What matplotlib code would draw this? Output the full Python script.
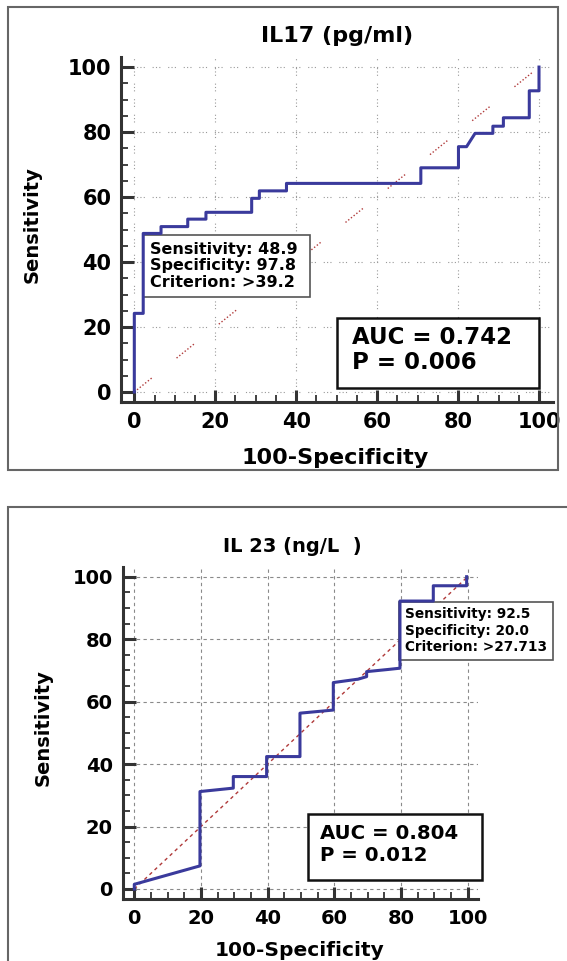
import matplotlib
matplotlib.use("Agg")
import matplotlib.pyplot as plt
from matplotlib.patches import Rectangle

# IL17 ROC curve (step path)
il17_fpr = [0, 0, 2.2, 2.2, 6.6, 6.6, 13.2, 13.2, 17.7, 17.7, 29.0, 29.0, 30.9, 30.9,
            37.6, 37.6, 70.8, 70.8, 80.1, 80.1, 82.1, 84.2, 88.6, 88.6, 91.2, 91.2,
            97.6, 97.6, 100, 100]
il17_tpr = [0, 24.2, 24.2, 48.8, 48.8, 50.9, 50.9, 53.2, 53.2, 55.3, 55.3, 59.6, 59.6, 61.9,
            61.9, 64.2, 64.2, 69.0, 69.0, 75.5, 75.5, 79.6, 79.6, 81.8, 81.8, 84.4,
            84.4, 92.7, 92.7, 100]

# IL23 ROC curve
il23_fpr = [0, 0, 19.7, 19.7, 29.7, 29.7, 39.7, 39.7, 49.7, 49.7, 59.7, 59.7, 67.2, 69.7,
            69.7, 76.2, 79.7, 79.7, 89.7, 89.7, 99.7, 99.7]
il23_tpr = [0, 1.5, 7.4, 31.2, 32.3, 36.0, 36.0, 42.4, 42.4, 56.3, 57.3, 66.1, 67.2, 68.0,
            69.6, 70.3, 70.7, 92.2, 92.2, 97.1, 97.1, 100]

ticks = [0, 20, 40, 60, 80, 100]
minor_ticks = list(range(0, 101, 5))

il17_info = "Sensitivity: 48.9\nSpecificity: 97.8\nCriterion: >39.2"
il17_auc = "AUC = 0.742\nP = 0.006"
il23_info = "Sensitivity: 92.5\nSpecificity: 20.0\nCriterion: >27.713"
il23_auc = "AUC = 0.804\nP = 0.012"

W, H = 567, 961
fig = plt.figure(figsize=(W / 100, H / 100), dpi=100)
plt.rcParams['font.family'] = ['DejaVu Sans']

curve_col = "#3a3a9c"
diag_col = "#b03a3a"
spine_col = "#333333"


def px(x, y):
    return x / W, 1 - y / H


# outer frames
fig.add_artist(Rectangle(px(8, 470), 550 / W, 463 / H, transform=fig.transFigure,
                         fill=False, edgecolor="#666666", linewidth=1.5))
fig.add_artist(Rectangle(px(8, 975), 580 / W, 468 / H, transform=fig.transFigure,
                         fill=False, edgecolor="#666666", linewidth=1.5))


def style_axes(ax, xlim, ylim, lsize):
    ax.set_xlim(*xlim)
    ax.set_ylim(*ylim)
    for s in ["top", "right"]:
        ax.spines[s].set_visible(False)
    for s in ["left", "bottom"]:
        ax.spines[s].set_linewidth(2.2)
        ax.spines[s].set_color(spine_col)
    ax.set_xticks(ticks)
    ax.set_yticks(ticks)
    ax.set_xticks(minor_ticks, minor=True)
    ax.set_yticks(minor_ticks, minor=True)
    ax.tick_params(which="major", direction="in", length=9, width=2.2, color=spine_col,
                   labelsize=lsize, pad=7)
    ax.tick_params(which="minor", direction="in", length=5, width=1.3, color=spine_col)
    for lab in ax.get_xticklabels() + ax.get_yticklabels():
        lab.set_fontweight("bold")


# ---------- top panel: IL17 ----------
ax1 = fig.add_axes([121 / W, 1 - 402 / H, 432 / W, 345 / H])
style_axes(ax1, (-3.29, 103.46), (-3.08, 103.1), 15)
for t in ticks:
    ax1.axhline(t, color="#999999", lw=0.8, ls=(0, (1, 2, 1, 2, 1, 7)), zorder=0)
    ax1.axvline(t, color="#999999", lw=0.8, ls=(0, (1, 2, 1, 2, 1, 7)), zorder=0)
ax1.plot([0, 100], [0, 100], color=diag_col, lw=1.0,
         ls=(0, (1, 1.5, 1, 1.5, 1, 1.5, 1, 1.5, 1, 1.5, 1, 1.5, 1, 23)), zorder=1)
ax1.add_patch(Rectangle((2.2, 29.3), 41.2, 19.0, facecolor="white", edgecolor="#555555",
                        lw=1.2, zorder=2))
ax1.text(3.9, 38.8, il17_info, fontsize=11.5, fontweight="bold", va="center", ha="left",
         linespacing=1.1, zorder=3)
ax1.add_patch(Rectangle((50, 1.2), 50, 21.5, facecolor="white", edgecolor="#111111",
                        lw=1.8, zorder=2))
ax1.text(53.7, 12.9, il17_auc, fontsize=16.5, fontweight="bold", va="center", ha="left",
         linespacing=1.15, zorder=3)
ax1.plot(il17_fpr, il17_tpr, color=curve_col, lw=2.2, zorder=4)

fig.text(*px(337, 36), "IL17 (pg/ml)", fontsize=16, fontweight="bold", ha="center", va="center")
fig.text(*px(335, 458), "100-Specificity", fontsize=16, fontweight="bold", ha="center", va="center")
fig.text(*px(32, 225), "Sensitivity", fontsize=14, fontweight="bold", ha="center", va="center",
         rotation=90)

# ---------- bottom panel: IL23 ----------
ax2 = fig.add_axes([122.7 / W, 1 - 899.3 / H, 355.6 / W, 332.6 / H])
style_axes(ax2, (-3.48, 103.2), (-3.3, 103.2), 14)
for t in ticks:
    ax2.axhline(t, color="#8a8a8a", lw=0.8, ls=(0, (3, 3)), zorder=0)
    ax2.axvline(t, color="#8a8a8a", lw=0.8, ls=(0, (3, 3)), zorder=0)
ax2.plot([0, 100], [0, 100], color=diag_col, lw=1.0, ls=(0, (2.5, 2.5)), zorder=1)
ax2.add_patch(Rectangle((79.5, 73.3), 46.0, 18.7, facecolor="white", edgecolor="#555555",
                        lw=1.2, zorder=2, clip_on=False))
ax2.text(81.2, 82.7, il23_info, fontsize=9.8, fontweight="bold", va="center", ha="left",
         linespacing=1.25, zorder=3, clip_on=False)
ax2.add_patch(Rectangle((52.2, 2.9), 52.0, 21.1, facecolor="white", edgecolor="#111111",
                        lw=1.8, zorder=2, clip_on=False))
ax2.text(55.7, 14.3, il23_auc, fontsize=14.2, fontweight="bold", va="center", ha="left",
         linespacing=1.2, zorder=3)
ax2.plot(il23_fpr, il23_tpr, color=curve_col, lw=2.2, zorder=4, clip_on=False)

fig.text(*px(292, 547), "IL 23 (ng/L  )", fontsize=14, fontweight="bold", ha="center", va="center")
fig.text(*px(300, 950), "100-Specificity", fontsize=14.5, fontweight="bold", ha="center", va="center")
fig.text(*px(43, 728), "Sensitivity", fontsize=14, fontweight="bold", ha="center", va="center",
         rotation=90)

plt.savefig("out.png", dpi=100)
